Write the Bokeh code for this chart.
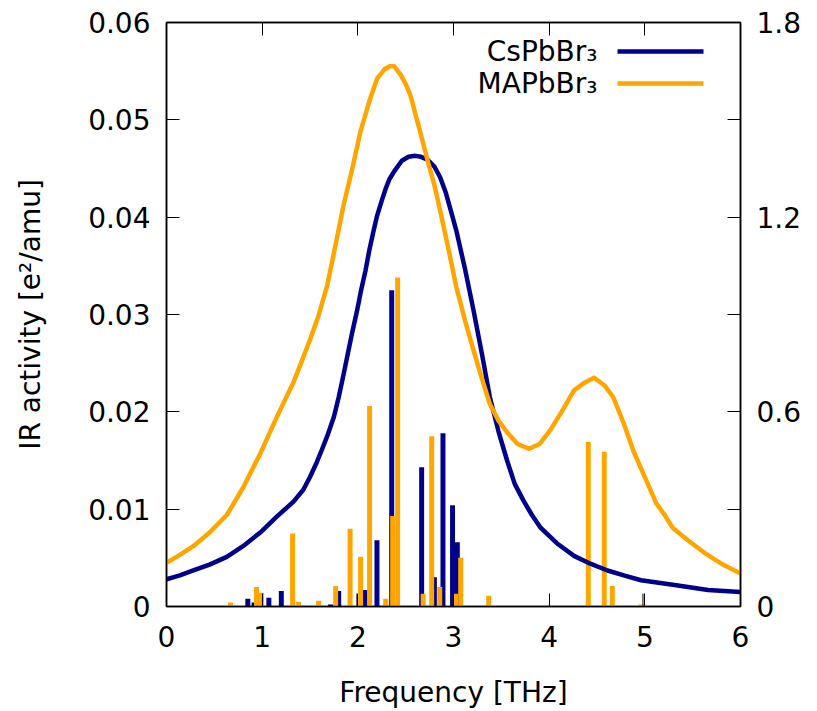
from bokeh.plotting import figure
from bokeh.models import Range1d, LinearAxis, FixedTicker, Label, Arrow
from bokeh.embed import file_html
from bokeh.resources import INLINE

# ---- data ----
cs_bar_freq = [0.85, 0.915, 1.07, 1.20, 1.715, 1.80, 2.075, 2.20, 2.354, 2.667, 2.80, 2.89, 2.99, 3.04]
cs_bar_act = [0.0008, 0.0004, 0.0009, 0.0016, 0.0002, 0.0016, 0.0017, 0.0068, 0.0325, 0.0143, 0.0030, 0.0178, 0.0104, 0.0066]

ma_bar_freq = [0.669, 0.941, 0.994, 1.318, 1.381, 1.59, 1.768, 1.919, 2.029, 2.123, 2.291, 2.364, 2.416,
               2.683, 2.772, 2.856, 3.023, 3.075, 3.368, 4.409, 4.576, 4.66, 4.96]
ma_bar_act = [0.0004, 0.0020, 0.0014, 0.0075, 0.0005, 0.0006, 0.0021, 0.0080, 0.0051, 0.0206, 0.0008, 0.0093, 0.0338,
              0.0013, 0.0175, 0.0020, 0.0013, 0.0050, 0.0011, 0.0169, 0.0159, 0.0021, 0.0002]

misc_freq = [1.99, 4.98]
misc_act = [0.0013, 0.0013]

cs_curve_freq = [0.00, 0.14, 0.28, 0.45, 0.63, 0.80, 0.98, 1.15, 1.33, 1.43, 1.50, 1.57, 1.62, 1.68, 1.75,
                 1.80, 1.85, 1.90, 1.94, 1.99, 2.03, 2.08, 2.12, 2.16, 2.20, 2.25, 2.29, 2.33, 2.38, 2.46,
                 2.53, 2.60, 2.66, 2.73, 2.80, 2.86, 2.92, 2.98, 3.03, 3.12, 3.21, 3.30, 3.38, 3.47, 3.56,
                 3.64, 3.73, 3.82, 3.91, 4.08, 4.26, 4.43, 4.61, 4.78, 4.96, 5.31, 5.66, 6.00]
cs_curve_act = [0.0028, 0.0032, 0.0037, 0.0043, 0.0051, 0.0062, 0.0076, 0.0092, 0.0108, 0.0120, 0.0133, 0.0148,
                0.0160, 0.0175, 0.0195, 0.0215, 0.0238, 0.0262, 0.0281, 0.0303, 0.0323, 0.0345, 0.0366, 0.0384,
                0.0401, 0.0417, 0.0429, 0.0439, 0.0447, 0.0458, 0.0462, 0.0463, 0.0462, 0.0459, 0.0452, 0.0441,
                0.0425, 0.0404, 0.0386, 0.0347, 0.0304, 0.0258, 0.0215, 0.0180, 0.0150, 0.0126, 0.0109, 0.0094,
                0.0081, 0.0065, 0.0052, 0.0044, 0.0037, 0.0032, 0.0027, 0.0022, 0.0017, 0.0015]

ma_curve_freq = [0.00, 0.14, 0.28, 0.45, 0.63, 0.80, 0.98, 1.15, 1.33, 1.41, 1.50, 1.59, 1.68, 1.76, 1.85,
                 1.94, 2.03, 2.12, 2.20, 2.28, 2.33, 2.38, 2.45, 2.50, 2.55, 2.64, 2.73, 2.80, 2.86, 2.95,
                 3.03, 3.12, 3.21, 3.30, 3.38, 3.47, 3.56, 3.67, 3.79, 3.90, 4.01, 4.13, 4.26, 4.37, 4.47,
                 4.58, 4.67, 4.78, 4.88, 5.00, 5.12, 5.20, 5.29, 5.45, 5.64, 5.80, 6.00]
ma_curve_act = [0.0045, 0.0053, 0.0062, 0.0076, 0.0094, 0.0122, 0.0157, 0.0194, 0.0231, 0.0251, 0.0274, 0.0299,
                0.0330, 0.0368, 0.0412, 0.0449, 0.0489, 0.0519, 0.0542, 0.0552, 0.0555, 0.0555, 0.0546, 0.0537,
                0.0525, 0.0492, 0.0458, 0.0433, 0.0407, 0.0366, 0.0328, 0.0294, 0.0263, 0.0233, 0.0208, 0.0191,
                0.0179, 0.0167, 0.0162, 0.0167, 0.0181, 0.0200, 0.0222, 0.0230, 0.0235, 0.0227, 0.0215, 0.0188,
                0.0160, 0.0133, 0.0106, 0.0095, 0.0081, 0.0068, 0.0054, 0.0044, 0.0034]

x_ticks = [0, 1, 2, 3, 4, 5, 6]
y_ticks = [0, 0.01, 0.02, 0.03, 0.04, 0.05, 0.06]
y_tick_labels = ["0", "0.01", "0.02", "0.03", "0.04", "0.05", "0.06"]
y2_ticks = [0, 0.6, 1.2, 1.8]
y2_tick_labels = ["0", "0.6", "1.2", "1.8"]
y2_minor_ticks = [0.3, 0.9, 1.5]

series_names = ["CsPbBr\u2083", "MAPbBr\u2083"]
x_label = "Frequency [THz]"
y_label = "IR activity [e\u00b2/amu]"

# ---- style ----
BLUE = "#00008b"
ORANGE = "#ffa500"
FONT = "DejaVu Sans"
FS = "28px"

p = figure(width=817, height=711, x_range=Range1d(0, 6), y_range=Range1d(0, 0.06),
           output_backend="svg", toolbar_location=None,
           min_border_left=166, min_border_right=77, min_border_top=22, min_border_bottom=105)
p.frame_width = 574
p.frame_height = 584
p.background_fill_color = "white"
p.border_fill_color = "white"
p.outline_line_color = "black"
p.outline_line_width = 1.5
p.xgrid.grid_line_color = None
p.ygrid.grid_line_color = None

def style_axis(ax):
    ax.major_tick_in = 13
    ax.major_tick_out = 0
    ax.minor_tick_in = 13
    ax.minor_tick_out = 0
    ax.minor_tick_line_color = "black"
    ax.major_tick_line_color = "black"
    ax.major_tick_line_width = 1
    ax.minor_tick_line_width = 1
    ax.axis_line_color = "black"
    ax.axis_line_width = 1.5
    ax.major_label_text_font = FONT
    ax.major_label_text_font_size = FS
    ax.major_label_text_color = "black"
    ax.axis_label_text_font = FONT
    ax.axis_label_text_font_size = FS
    ax.axis_label_text_font_style = "normal"
    ax.axis_label_text_color = "black"

xa = p.xaxis[0]
xa.ticker = FixedTicker(ticks=x_ticks, minor_ticks=[])
xa.axis_label = x_label
style_axis(xa)
xa.major_label_standoff = 19
xa.axis_label_standoff = 26

ya = p.yaxis[0]
ya.ticker = FixedTicker(ticks=y_ticks, minor_ticks=[])
ya.major_label_overrides = dict(zip(y_ticks, y_tick_labels))
ya.axis_label = y_label
style_axis(ya)
ya.major_label_standoff = 16
ya.axis_label_standoff = 38

p.extra_y_ranges = {"y2": Range1d(0, 1.8)}
ya2 = LinearAxis(y_range_name="y2", ticker=FixedTicker(ticks=y2_ticks, minor_ticks=y2_minor_ticks))
ya2.major_label_overrides = dict(zip(y2_ticks, y2_tick_labels))
style_axis(ya2)
ya2.major_label_standoff = 16
p.add_layout(ya2, "right")

# top border: tick marks only (drawn as minor ticks, so no labels)
xtop = LinearAxis(ticker=FixedTicker(ticks=[], minor_ticks=x_ticks))
style_axis(xtop)
xtop.major_label_standoff = 0
p.add_layout(xtop, "above")

# ---- marks ----
p.vbar(x=cs_bar_freq, top=cs_bar_act, bottom=0, width=0.052, fill_color=BLUE, line_color=None)
p.vbar(x=ma_bar_freq, top=ma_bar_act, bottom=0, width=0.052, fill_color=ORANGE, line_color=None)
p.segment(x0=misc_freq, y0=[0] * len(misc_freq), x1=misc_freq, y1=misc_act, line_color="#555555", line_width=1.5)
p.line(cs_curve_freq, cs_curve_act, line_color=BLUE, line_width=4.5, line_join="round")
p.line(ma_curve_freq, ma_curve_act, line_color=ORANGE, line_width=4.5, line_join="round")

# ---- key (text on the left, line sample on the right) ----
key_y = [555, 523]
for name, col, ky in zip(series_names, [BLUE, ORANGE], key_y):
    p.add_layout(Label(x=431, y=ky, x_units="screen", y_units="screen", text=name,
                       text_align="right", text_baseline="middle",
                       text_font=FONT, text_font_size=FS, text_color="black"))
    p.add_layout(Arrow(end=None, start=None, x_start=451, y_start=ky, x_end=537, y_end=ky,
                       start_units="screen", end_units="screen", line_color=col, line_width=4.5))

open("out.html", "w").write(file_html(p, INLINE))
